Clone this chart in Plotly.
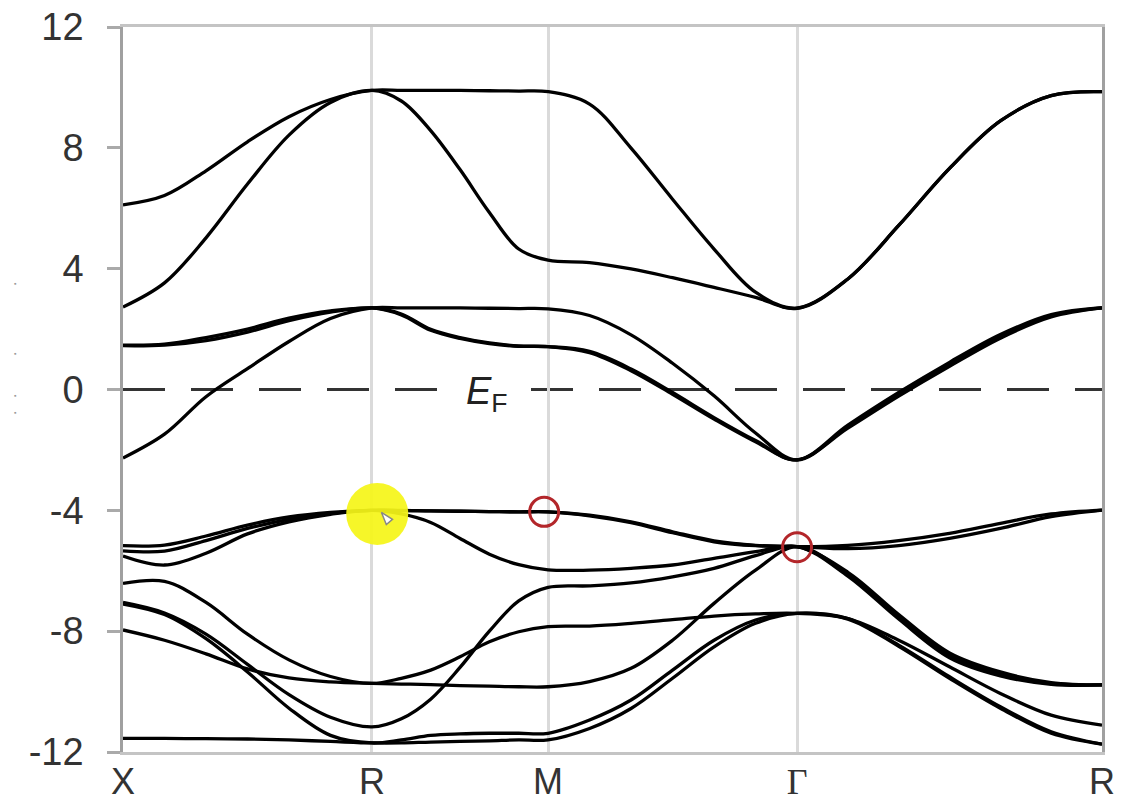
import numpy as np
import plotly.graph_objects as go

# High-symmetry path of the simple-cubic Brillouin zone: X - R - M - Gamma - R
labels = ["X", "R", "M", "Γ", "R"]
seg_lengths = [np.sqrt(0.5), 0.5, np.sqrt(0.5), np.sqrt(0.75)]
node_k = np.concatenate([[0.0], np.cumsum(seg_lengths)])
n_per_seg = 6  # samples per segment (values read at fractions i/6)

k_grid = [0.0]
for i in range(4):
    for j in range(1, n_per_seg + 1):
        k_grid.append(node_k[i] + seg_lengths[i] * j / n_per_seg)
k_grid = np.array(k_grid)

E_F = 0.0
y_ticks = [-12, -8, -4, 0, 4, 8, 12]
y_tick_text = ["-12", "-8", "-4", "0", "4", "8", "12"]

# Band energies (eV) read at the k grid: X-R (7), R-M (6), M-G (6), G-R (6)
eg_a = [6.11, 6.42, 7.24, 8.20, 9.03, 9.60, 9.90,
        9.90, 9.90, 9.90, 9.89, 9.88, 9.86,
        9.45, 7.99, 6.30, 4.65, 3.22, 2.69,
        3.66, 5.43, 7.32, 8.89, 9.73, 9.86]
eg_b = [2.73, 3.53, 5.02, 6.80, 8.42, 9.50, 9.90,
        9.55, 8.57, 7.28, 5.86, 4.65, 4.28,
        4.20, 3.99, 3.70, 3.38, 3.05, 2.69,
        3.66, 5.43, 7.32, 8.89, 9.73, 9.86]
t2g_1 = [-2.27, -1.48, -0.24, 0.69, 1.59, 2.35, 2.70,
         2.70, 2.70, 2.70, 2.69, 2.68, 2.67,
         2.45, 1.81, 0.87, -0.21, -1.44, -2.33,
         -1.23, -0.16, 0.83, 1.76, 2.44, 2.70]
t2g_2 = [1.47, 1.50, 1.72, 2.00, 2.36, 2.60, 2.70,
         2.50, 1.99, 1.72, 1.54, 1.44, 1.42,
         1.26, 0.68, -0.10, -0.93, -1.69, -2.33,
         -1.18, -0.10, 0.90, 1.82, 2.48, 2.70]
t2g_3 = [1.45, 1.47, 1.62, 1.90, 2.28, 2.56, 2.70,
         2.47, 1.96, 1.69, 1.52, 1.43, 1.42,
         1.22, 0.62, -0.16, -0.98, -1.73, -2.33,
         -1.28, -0.22, 0.77, 1.70, 2.40, 2.70]
p_a = [-5.17, -5.15, -4.85, -4.49, -4.22, -4.07, -4.00,
       -4.00, -4.02, -4.03, -4.04, -4.05, -4.05,
       -4.16, -4.38, -4.71, -5.01, -5.16, -5.20,
       -5.16, -5.00, -4.76, -4.43, -4.12, -3.99]
p_b = [-5.34, -5.35, -5.00, -4.60, -4.30, -4.10, -4.00,
       -4.01, -4.02, -4.03, -4.04, -4.05, -4.05,
       -4.18, -4.41, -4.74, -5.04, -5.17, -5.20,
       -5.27, -5.17, -4.93, -4.60, -4.21, -3.99]
p_c = [-5.51, -5.81, -5.42, -4.78, -4.38, -4.13, -4.00,
       -4.12, -4.40, -4.93, -5.45, -5.80, -5.97,
       -5.98, -5.92, -5.81, -5.59, -5.37, -5.20,
       -6.05, -7.45, -8.72, -9.35, -9.70, -9.78]
p_d = [-6.42, -6.35, -7.05, -8.10, -8.95, -9.50, -9.73,
       -9.56, -9.29, -8.85, -8.35, -8.02, -7.85,
       -7.83, -7.74, -7.62, -7.50, -7.43, -7.41,
       -7.58, -8.30, -9.18, -10.06, -10.78, -11.11]
p_e = [-7.96, -8.30, -8.75, -9.25, -9.55, -9.68, -9.73,
       -9.75, -9.77, -9.80, -9.82, -9.84, -9.84,
       -9.67, -9.23, -8.30, -7.08, -5.98, -5.20,
       -6.12, -7.52, -8.80, -9.42, -9.74, -9.78]
p_f = [-7.05, -7.40, -8.10, -9.10, -10.10, -10.85, -11.17,
       -10.90, -10.25, -9.20, -8.00, -7.00, -6.55,
       -6.50, -6.40, -6.20, -5.92, -5.50, -5.20,
       -6.18, -7.60, -8.88, -9.48, -9.76, -9.78]
p_g = [-7.10, -7.45, -8.25, -9.35, -10.55, -11.45, -11.70,
       -11.60, -11.45, -11.40, -11.38, -11.38, -11.38,
       -10.94, -10.28, -9.29, -8.30, -7.63, -7.41,
       -7.58, -8.46, -9.51, -10.50, -11.33, -11.74]
p_i = [-11.55, -11.55, -11.56, -11.57, -11.60, -11.65, -11.70,
       -11.70, -11.67, -11.65, -11.63, -11.60, -11.60,
       -11.22, -10.56, -9.56, -8.52, -7.74, -7.41,
       -7.60, -8.50, -9.56, -10.55, -11.38, -11.74]

bands = [eg_a, eg_b, t2g_1, t2g_2, t2g_3, p_a, p_b, p_c, p_d, p_e, p_f, p_g, p_i]

# Highlighted states
yellow_k = [0.722]
yellow_E = [-4.12]
red_k = [1.196, node_k[3]]
red_E = [-4.05, -5.22]

fig = go.Figure()
for b in bands:
    fig.add_trace(go.Scatter(x=k_grid, y=b, mode="lines",
                             line=dict(color="black", width=3.3, shape="spline", smoothing=1.0),
                             hoverinfo="skip"))

fig.add_trace(go.Scatter(x=yellow_k, y=yellow_E, mode="markers",
                         marker=dict(size=62, color="rgba(245,245,25,0.93)", line=dict(width=0)),
                         hoverinfo="skip"))
fig.add_trace(go.Scatter(x=[yellow_k[0] + 0.012], y=[yellow_E[0] + 0.05], mode="markers",
                         marker=dict(size=13, symbol="arrow", angle=-40, color="white",
                                     line=dict(color="#888", width=1.5)),
                         hoverinfo="skip"))
fig.add_trace(go.Scatter(x=red_k, y=red_E, mode="markers",
                         marker=dict(size=29, symbol="circle-open", color="#b3262a",
                                     line=dict(width=3, color="#b3262a")),
                         hoverinfo="skip"))

fig.add_hline(y=E_F, line=dict(color="#333", width=3, dash="42px,26px"), layer="below")

fig.add_annotation(x=1.034, y=E_F - 0.15, text="<i>E</i><sub>F</sub>", showarrow=False,
                   font=dict(family="Liberation Sans", size=38, color="#222"),
                   bgcolor="white", borderpad=7, yanchor="middle")

# faint remnants of the cropped axis title at left edge
for yy in [3.52, 1.2, -0.2, -0.75]:
    fig.add_annotation(x=-0.113, xref="paper", y=yy, text="▪", showarrow=False,
                       font=dict(size=7, color="#999"))

tick_text = [labels[0], labels[1], labels[2],
             '<span style="font-family:Liberation Serif">' + labels[3] + '</span>', labels[4]]

fig.update_layout(
    width=1125, height=802,
    margin=dict(l=123, r=23, t=27, b=50),
    plot_bgcolor="white", paper_bgcolor="white",
    showlegend=False,
    xaxis=dict(range=[0, node_k[-1]], tickvals=list(node_k), ticktext=tick_text,
               tickfont=dict(family="Liberation Sans", size=36, color="#333"),
               showgrid=True, gridcolor="#dadada", gridwidth=2.5,
               showline=True, linecolor="#c4c4c4", linewidth=3, mirror=True,
               ticks="", ticklen=0, zeroline=False, ticklabelstandoff=-4, automargin=False),
    yaxis=dict(range=[-12, 12], tickvals=y_ticks, ticktext=y_tick_text,
               tickfont=dict(family="Liberation Sans", size=38, color="#333"),
               showgrid=False, zeroline=False,
               showline=True, linecolor="#a0a0a0", linewidth=2.5, mirror=True,
               ticks="outside", ticklen=13, tickcolor="#aaaaaa", tickwidth=2.5,
               ticklabelstandoff=16, automargin=False),
)

fig.write_html("out.html")
